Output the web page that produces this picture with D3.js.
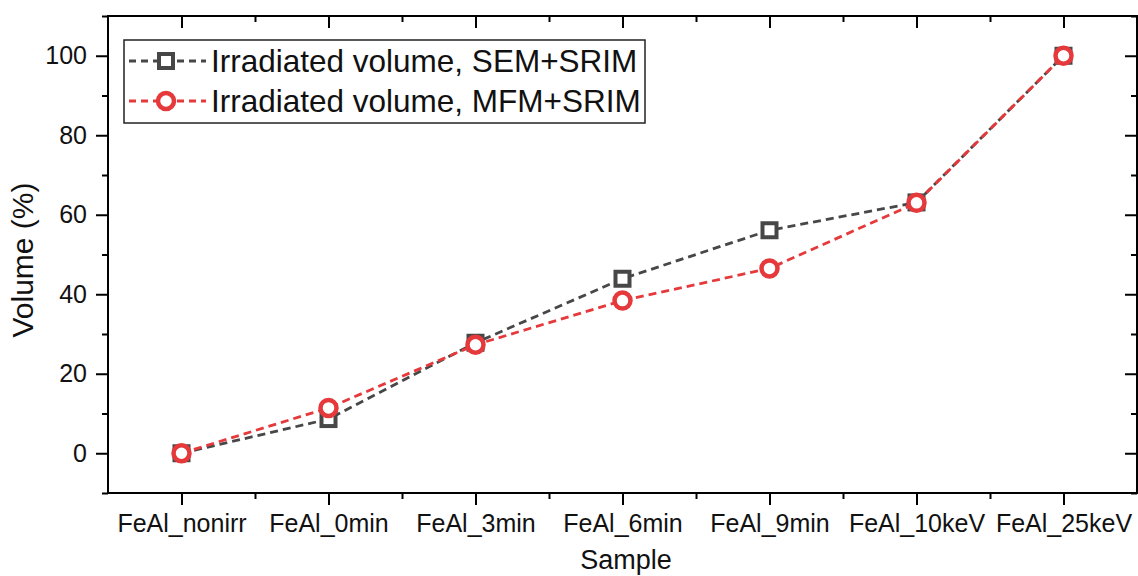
<!DOCTYPE html>
<html>
<head>
<meta charset="utf-8">
<script src="https://cdn.jsdelivr.net/npm/d3@7"></script>
<style>
  body { margin: 0; background: #fff; }
  svg text { font-family: Arial, "Liberation Sans", sans-serif; fill: #111; }
</style>
</head>
<body>
<div id="chart"></div>
<script>
'use strict';
// data
const samples = ['FeAl_nonirr', 'FeAl_0min', 'FeAl_3min', 'FeAl_6min', 'FeAl_9min', 'FeAl_10keV', 'FeAl_25keV']
const semVolume = [0, 8.6, 27.8, 43.9, 56.1, 63.1, 100]
const mfmVolume = [0, 11.4, 27.3, 38.4, 46.5, 63.0, 100]
const yTicks = [0, 20, 40, 60, 80, 100]
const legendLabels = ['Irradiated volume, SEM+SRIM', 'Irradiated volume, MFM+SRIM']

const W = 1138, H = 576
const margin = { top: 16, left: 108, right: 1, bottom: 83 }
const width = W - margin.left - margin.right
const height = H - margin.top - margin.bottom
const grey = '#474747'
const red = '#e5393b'

const x = d3.scaleLinear().domain([0.5, samples.length + 0.5]).range([0, width])
const y = d3.scaleLinear().domain([-10, 110]).range([height, 0])

const svg = d3.select('#chart').append('svg')
    .attr('width', W)
    .attr('height', H)
const g = svg.append('g')
    .attr('transform', `translate(${margin.left},${margin.top})`)

const xMajor = d3.range(1, samples.length + 1)
const xMinor = d3.range(1.5, samples.length, 1)
const yMinor = d3.range(-10, 111, 20)

// Bottom axis (outward ticks)
g.append('g')
    .attr('transform', `translate(0,${height})`)
    .call(d3.axisBottom(x).tickValues(xMajor).tickSize(12).tickPadding(9)
        .tickFormat(d => samples[d - 1]))
    .call(a => a.selectAll('text').style('font-size', '25px'))
g.append('g')
    .attr('transform', `translate(0,${height})`)
    .call(d3.axisBottom(x).tickValues(xMinor).tickSize(6).tickFormat(''))

// Top axis (inward ticks)
g.append('g')
    .call(d3.axisTop(x).tickValues(xMajor).tickSize(-12).tickFormat(''))
g.append('g')
    .call(d3.axisTop(x).tickValues(xMinor).tickSize(-6).tickFormat(''))

// Left axis
g.append('g')
    .call(d3.axisLeft(y).tickValues(yTicks).tickSize(12).tickPadding(9))
    .call(a => a.selectAll('text').style('font-size', '25px'))
g.append('g')
    .call(d3.axisLeft(y).tickValues(yMinor).tickSize(6).tickFormat(''))

// Right axis (inward ticks)
g.append('g')
    .attr('transform', `translate(${width},0)`)
    .call(d3.axisRight(y).tickValues(yTicks).tickSize(-12).tickFormat(''))
g.append('g')
    .attr('transform', `translate(${width},0)`)
    .call(d3.axisRight(y).tickValues(yMinor).tickSize(-6).tickFormat(''))

g.selectAll('.domain').remove()
g.selectAll('.tick line').attr('stroke', '#000').attr('stroke-width', 2)

// Frame
g.append('rect')
    .attr('width', width)
    .attr('height', height)
    .attr('fill', 'none')
    .attr('stroke', '#000')
    .attr('stroke-width', 2)

// Axis titles
svg.append('text')
    .attr('x', 626)
    .attr('y', 569)
    .attr('text-anchor', 'middle')
    .style('font-size', '27px')
    .text('Sample')
svg.append('text')
    .attr('transform', 'translate(33,260) rotate(-90)')
    .attr('text-anchor', 'middle')
    .style('font-size', '30px')
    .text('Volume (%)')

// Series
const line = d3.line()
    .x((d, i) => x(i + 1))
    .y(d => y(d))

function square(sel, color) {
    sel.append('rect')
        .attr('x', -7).attr('y', -7)
        .attr('width', 14).attr('height', 14)
        .attr('fill', '#fff')
        .attr('stroke', color)
        .attr('stroke-width', 4)
}
function circle(sel, color) {
    sel.append('circle')
        .attr('r', 8)
        .attr('fill', '#fff')
        .attr('stroke', color)
        .attr('stroke-width', 4.5)
}

g.append('path').datum(semVolume)
    .attr('d', line)
    .attr('fill', 'none')
    .attr('stroke', grey)
    .attr('stroke-width', 2.8)
    .attr('stroke-dasharray', '8,5')
g.selectAll('g.sem').data(semVolume).join('g')
    .attr('class', 'sem')
    .attr('transform', (d, i) => `translate(${x(i + 1)},${y(d)})`)
    .call(square, grey)

g.append('path').datum(mfmVolume)
    .attr('d', line)
    .attr('fill', 'none')
    .attr('stroke', red)
    .attr('stroke-width', 2.8)
    .attr('stroke-dasharray', '8,5')
g.selectAll('g.mfm').data(mfmVolume).join('g')
    .attr('class', 'mfm')
    .attr('transform', (d, i) => `translate(${x(i + 1)},${y(d)})`)
    .call(circle, red)

// Legend
const lg = svg.append('g').attr('transform', 'translate(124,40)')
lg.append('rect')
    .attr('width', 521)
    .attr('height', 83)
    .attr('fill', '#fff')
    .attr('stroke', '#222')
    .attr('stroke-width', 1.5)
const colors = [grey, red]
const markers = [square, circle]
legendLabels.forEach((label, i) => {
    const row = lg.append('g').attr('transform', `translate(0,${21 + i * 40})`)
    row.append('line')
        .attr('x1', 5).attr('x2', 82)
        .attr('stroke', colors[i])
        .attr('stroke-width', 2.8)
        .attr('stroke-dasharray', '7,5')
    row.append('g').attr('transform', 'translate(42,0)').call(markers[i], colors[i])
    row.append('text')
        .attr('x', 87)
        .attr('y', 11)
        .style('font-size', '31.5px')
        .text(label)
})
</script>
</body>
</html>
